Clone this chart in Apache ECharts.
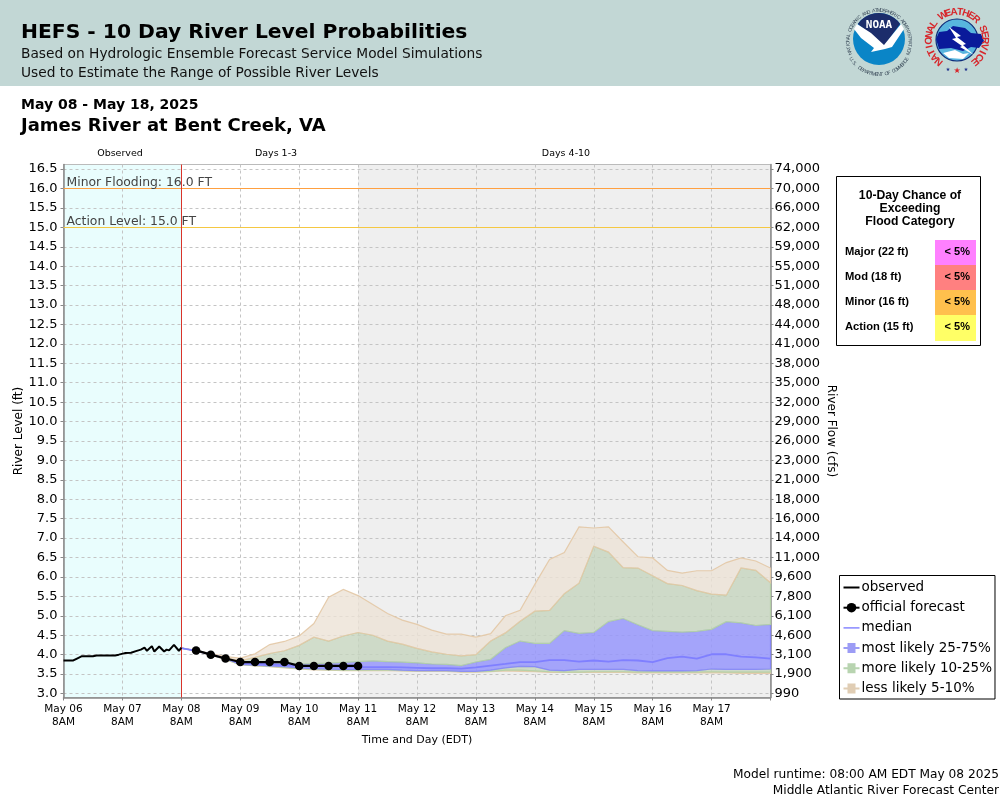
<!DOCTYPE html>
<html lang="en">
<head>
<meta charset="UTF-8">
<title>HEFS - James River at Bent Creek, VA</title>
<script src="https://cdn.jsdelivr.net/npm/echarts@6/dist/echarts.min.js"></script>
<style>
html, body { margin: 0; padding: 0; background: #fff; }
</style>
</head>
<body>
<div id="main" style="width:1000px;height:800px;"></div>
<script>
// x values are hours since May 06 8AM
var dayLabels = ['May 06', 'May 07', 'May 08', 'May 09', 'May 10', 'May 11', 'May 12', 'May 13', 'May 14', 'May 15', 'May 16', 'May 17'];

var stageTicks = [3, 3.5, 4, 4.5, 5, 5.5, 6, 6.5, 7, 7.5, 8, 8.5, 9, 9.5, 10, 10.5, 11, 11.5, 12, 12.5, 13, 13.5, 14, 14.5, 15, 15.5, 16, 16.5];
var flowLabels = ['990', '1,900', '3,100', '4,600', '6,100', '7,800', '9,600', '11,000', '14,000', '16,000', '18,000', '21,000', '23,000', '26,000', '29,000', '32,000', '35,000', '38,000', '41,000', '44,000', '48,000', '51,000', '55,000', '59,000', '62,000', '66,000', '70,000', '74,000'];

var obsHours = [0, 4, 5.5, 7.5, 12, 13.5, 21, 21.5, 22.5, 25, 27.5, 29.5, 30, 31.5, 33, 34, 36, 37, 39, 41, 42, 43, 45, 47, 48];
var obsLevels = [3.85, 3.85, 3.90, 3.96, 3.96, 3.98, 3.98, 3.96, 4.00, 4.04, 4.05, 4.09, 4.14, 4.13, 4.18, 4.10, 4.22, 4.08, 4.21, 4.08, 4.13, 4.11, 4.25, 4.10, 4.18];

var fcstHours = [54, 60, 66, 72, 78, 84, 90, 96, 102, 108, 114, 120];
var fcstLevels = [4.11, 4.00, 3.90, 3.81, 3.81, 3.81, 3.81, 3.71, 3.71, 3.71, 3.71, 3.71];

// ensemble output every 6 hours from May 08 8AM
var ensHours = [48, 54, 60, 66, 72, 78, 84, 90, 96, 102, 108, 114, 120, 126, 132, 138, 144, 150, 156, 162, 168, 174, 180, 186, 192, 198, 204, 210, 216, 222, 228, 234, 240, 246, 252, 258, 264, 270, 276, 282, 288];
var p05 = [4.17, 4.09, 3.99, 3.87, 3.74, 3.71, 3.69, 3.66, 3.63, 3.61, 3.60, 3.59, 3.59, 3.59, 3.59, 3.58, 3.57, 3.57, 3.57, 3.55, 3.55, 3.56, 3.58, 3.57, 3.56, 3.54, 3.54, 3.54, 3.54, 3.54, 3.54, 3.53, 3.53, 3.53, 3.53, 3.53, 3.53, 3.53, 3.52, 3.52, 3.52];
var p10 = [4.17, 4.10, 4.00, 3.88, 3.74, 3.72, 3.70, 3.67, 3.64, 3.62, 3.61, 3.60, 3.60, 3.60, 3.60, 3.59, 3.58, 3.58, 3.58, 3.56, 3.56, 3.57, 3.60, 3.60, 3.58, 3.56, 3.55, 3.55, 3.56, 3.56, 3.56, 3.55, 3.55, 3.55, 3.55, 3.55, 3.56, 3.55, 3.55, 3.55, 3.55];
var p25 = [4.17, 4.10, 4.01, 3.90, 3.75, 3.73, 3.71, 3.69, 3.66, 3.64, 3.63, 3.62, 3.62, 3.62, 3.62, 3.60, 3.59, 3.59, 3.59, 3.57, 3.57, 3.60, 3.66, 3.70, 3.69, 3.60, 3.59, 3.62, 3.62, 3.62, 3.62, 3.59, 3.58, 3.58, 3.58, 3.59, 3.63, 3.62, 3.62, 3.62, 3.63];
var p50 = [4.17, 4.10, 4.01, 3.90, 3.78, 3.77, 3.75, 3.73, 3.71, 3.70, 3.69, 3.69, 3.68, 3.68, 3.68, 3.67, 3.66, 3.65, 3.65, 3.64, 3.67, 3.72, 3.76, 3.81, 3.81, 3.86, 3.86, 3.82, 3.85, 3.82, 3.86, 3.85, 3.81, 3.91, 3.95, 3.90, 4.01, 4.01, 3.95, 3.93, 3.90];
var p75 = [4.17, 4.10, 4.01, 3.90, 3.80, 3.80, 3.80, 3.78, 3.76, 3.77, 3.78, 3.80, 3.82, 3.84, 3.82, 3.81, 3.79, 3.76, 3.75, 3.72, 3.81, 3.88, 4.18, 4.35, 4.29, 4.29, 4.62, 4.55, 4.57, 4.85, 4.93, 4.77, 4.62, 4.60, 4.58, 4.60, 4.65, 4.85, 4.82, 4.75, 4.78];
var p90 = [4.17, 4.10, 4.01, 3.92, 3.84, 3.93, 4.03, 4.10, 4.24, 4.45, 4.35, 4.48, 4.57, 4.50, 4.35, 4.27, 4.16, 4.07, 4.01, 3.97, 4.00, 4.35, 4.56, 4.86, 5.12, 5.14, 5.57, 5.84, 6.79, 6.64, 6.24, 6.23, 6.03, 5.83, 5.78, 5.65, 5.56, 5.53, 6.23, 6.17, 5.85];
var p95 = [4.17, 4.11, 4.03, 3.95, 3.91, 4.02, 4.26, 4.34, 4.48, 4.80, 5.48, 5.68, 5.52, 5.29, 5.06, 4.89, 4.78, 4.63, 4.53, 4.53, 4.45, 4.54, 5.00, 5.14, 5.81, 6.45, 6.63, 7.29, 7.26, 7.29, 6.90, 6.52, 6.49, 6.17, 6.10, 6.16, 6.16, 6.37, 6.49, 6.41, 6.23];

var floodLabels = ['Major (22 ft)', 'Mod (18 ft)', 'Minor (16 ft)', 'Action (15 ft)'];
var floodChances = ['< 5%', '< 5%', '< 5%', '< 5%'];
var floodColors = ['#ff80ff', '#ff8080', '#ffc04d', '#ffff66'];

var FONT = '"DejaVu Sans"';
var BAND_ICON = 'path://M0 7H4V3H12V7H16V9H12V13H4V9H0Z';

function pairs(xs, ys) {
    return xs.map(function (x, i) { return [x, ys[i]]; });
}

// filled region between two percentile curves, one polygon drawn on the first row
function band(name, lower, upper, line, fill, legendFill) {
    return {
        name: name, type: 'custom', silent: true, z: 3, coordinateSystem: 'cartesian2d',
        data: ensHours.map(function (h, i) { return [h, lower[i], upper[i]]; }),
        encode: { x: 0, y: [1, 2] },
        itemStyle: { color: legendFill },
        renderItem: function (params, api) {
            if (params.dataIndex !== 0) return null;
            var top = [], bottom = [];
            for (var i = 0; i < ensHours.length; i++) {
                var h = api.value(0, i);
                bottom.push(api.coord([h, api.value(1, i)]));
                top.push(api.coord([h, api.value(2, i)]));
            }
            return {
                type: 'polygon',
                shape: { points: bottom.concat(top.reverse()) },
                style: { fill: fill, stroke: line, lineWidth: 1.2 }
            };
        }
    };
}

// curved lettering for the two logos, one text element per letter
function ring(str, cx, cy, r, from, to, font, color, bottom) {
    var out = [];
    var n = str.length;
    for (var i = 0; i < n; i++) {
        var a = (from + (to - from) * i / (n - 1)) * Math.PI / 180;
        out.push({
            type: 'text',
            x: cx + r * Math.sin(a), y: cy - r * Math.cos(a),
            rotation: bottom ? Math.PI - a : -a,
            style: { text: str[i], x: 0, y: 0, align: 'center', verticalAlign: 'middle', font: font, fill: color }
        });
    }
    return out;
}

function txt(x, y, s, font, fill, align, extra) {
    var o = { type: 'text', x: x, y: y, style: { text: s, x: 0, y: 0, font: font, fill: fill || '#000', align: align || 'left', verticalAlign: 'middle' } };
    if (extra) o.rotation = extra;
    return o;
}

function poly(points, fill) {
    return { type: 'polygon', shape: { points: points }, style: { fill: fill } };
}

var graphics = [
    { type: 'rect', shape: { x: 0, y: 0, width: 1000, height: 86 }, style: { fill: '#c2d7d5' }, z: -10 },
    txt(21, 33, 'HEFS - 10 Day River Level Probabilities', 'bold 20.3px ' + FONT),
    txt(21, 54, 'Based on Hydrologic Ensemble Forecast Service Model Simulations', '13.75px ' + FONT, '#111'),
    txt(21, 73, 'Used to Estimate the Range of Possible River Levels', '13.75px ' + FONT, '#111'),
    txt(21, 105, 'May 08 - May 18, 2025', 'bold 14px ' + FONT),
    txt(21, 126, 'James River at Bent Creek, VA', 'bold 18px ' + FONT),
    txt(120, 154, 'Observed', '9.5px ' + FONT, '#000', 'center'),
    txt(276, 154, 'Days 1-3', '9.5px ' + FONT, '#000', 'center'),
    txt(566, 154, 'Days 4-10', '9.5px ' + FONT, '#000', 'center'),
    txt(417, 740, 'Time and Day (EDT)', '11px ' + FONT, '#000', 'center'),
    txt(19, 431, 'River Level (ft)', '12px ' + FONT, '#000', 'center', Math.PI / 2),
    txt(831, 431, 'River Flow (cfs)', '12px ' + FONT, '#000', 'center', -Math.PI / 2),
    txt(999, 775, 'Model runtime: 08:00 AM EDT May 08 2025', '12.2px ' + FONT, '#000', 'right'),
    txt(999, 791, 'Middle Atlantic River Forecast Center', '12.2px ' + FONT, '#000', 'right'),

    // flood category box
    { type: 'rect', shape: { x: 836.5, y: 176.5, width: 144, height: 169 }, style: { fill: '#fff', stroke: '#000', lineWidth: 1 } },
    txt(910, 196, '10-Day Chance of', 'bold 12.2px "Liberation Sans"', '#000', 'center'),
    txt(910, 209, 'Exceeding', 'bold 12.2px "Liberation Sans"', '#000', 'center'),
    txt(910, 222, 'Flood Category', 'bold 12.2px "Liberation Sans"', '#000', 'center')
];
floodLabels.forEach(function (label, i) {
    var y = 240 + i * 25;
    graphics.push({ type: 'rect', shape: { x: 935, y: y, width: 41, height: i == 3 ? 26 : 25 }, style: { fill: floodColors[i] } });
    graphics.push(txt(845, y + 12, label, 'bold 11.2px "Liberation Sans"'));
    graphics.push(txt(970, y + 12, floodChances[i], 'bold 11px "Liberation Sans"', '#000', 'right'));
});

// NOAA logo
var nx = 879, ny = 39;
graphics.push({ type: 'circle', shape: { cx: nx, cy: ny, r: 26 }, style: { fill: '#0a85c7' } });
graphics.push({ type: 'sector', shape: { cx: nx, cy: ny, r: 26, startAngle: Math.PI * 1.2, endAngle: Math.PI * 1.8 }, style: { fill: '#1c2d6b' } });
graphics.push(poly([[nx - 21, ny - 15], [nx + 5, ny + 7], [nx + 21, ny - 15]], '#1c2d6b'));
graphics.push(poly([[nx - 22, ny - 15], [nx - 8, ny - 6], [nx + 5, ny + 6], [nx + 22, ny - 15], [nx + 25, ny - 10], [nx + 13, ny + 8], [nx + 6, ny + 10], [nx - 8, ny + 13], [nx - 5, ny + 9], [nx - 18, ny - 1], [nx - 25, ny - 10]], '#fff'));
graphics.push(txt(nx, ny - 14, 'NOAA', 'bold 11px "DejaVu Sans Mono"', '#fff', 'center'));
graphics = graphics.concat(ring('NATIONAL OCEANIC AND ATMOSPHERIC ADMINISTRATION', nx, ny + 2.5, 31, -112, 112, '5px "Liberation Sans"', '#3a4a5a'));
graphics = graphics.concat(ring('U.S. DEPARTMENT OF COMMERCE', nx, ny + 2.5, 33, 238, 122, '5px "Liberation Sans"', '#3a4a5a', true));

// NWS logo
var wx = 957, wy = 40;
graphics.push({ type: 'circle', shape: { cx: wx, cy: wy, r: 21 }, style: { fill: '#58b5de', stroke: '#0c2a78', lineWidth: 1.2 } });
graphics.push(poly([[wx - 21, wy - 1], [wx - 18, wy - 8], [wx - 10, wy - 9], [wx - 4, wy - 14], [wx + 8, wy - 12], [wx + 14, wy - 7], [wx + 24, wy - 6], [wx + 27, wy + 1], [wx + 22, wy + 8], [wx + 14, wy + 7], [wx + 6, wy + 11], [wx - 6, wy + 8], [wx - 18, wy + 9]], '#0a1a9a'));
graphics.push(poly([[wx - 14, wy + 13], [wx - 2, wy + 10], [wx + 6, wy + 14], [wx + 12, wy + 13], [wx + 6, wy + 19], [wx - 8, wy + 18]], '#fff'));
graphics.push(poly([[wx - 8, wy - 13], [wx + 4, wy - 4], [wx, wy - 3], [wx + 9, wy + 4], [wx + 6, wy + 5], [wx + 17, wy + 15], [wx + 3, wy + 7], [wx + 5, wy + 6], [wx - 5, wy - 1], [wx - 1, wy - 2]], '#fff'));
graphics = graphics.concat(ring('NATIONAL WEATHER SERVICE', wx, wy, 28, -140, 140, 'bold 10px "Liberation Sans"', '#d7262b'));
graphics.push(txt(wx, wy + 31, '★', '8px "DejaVu Sans"', '#d7262b', 'center'));
graphics.push(txt(wx - 9, wy + 30, '★', '5px "DejaVu Sans"', '#1c2d8b', 'center'));
graphics.push(txt(wx + 9, wy + 30, '★', '5px "DejaVu Sans"', '#1c2d8b', 'center'));

var TAN_LINE = 'rgba(227,200,165,0.9)', TAN_FILL = 'rgba(236,226,214,0.8)';
var GREEN_LINE = 'rgba(180,210,165,0.9)', GREEN_FILL = 'rgba(198,212,190,0.8)';
var BLUE_LINE = 'rgba(130,130,255,0.8)', BLUE_FILL = 'rgba(150,150,252,0.85)';

var chart = echarts.init(document.getElementById('main'));
var option = {
    animation: false,
    textStyle: { fontFamily: FONT },
    grid: { left: 63.5, right: 229.5, top: 164.5, bottom: 102.5, show: true, borderColor: '#bbb', borderWidth: 1, backgroundColor: 'transparent' },
    xAxis: {
        type: 'value', min: 0, max: 288, interval: 24,
        axisLine: { lineStyle: { color: '#888', width: 1.5 } },
        axisTick: { length: 3, lineStyle: { color: '#888' } },
        axisLabel: {
            color: '#000', fontSize: 10.5, lineHeight: 13, margin: 5, showMaxLabel: true, showMinLabel: true, hideOverlap: false,
            formatter: function (v) { var d = dayLabels[v / 24]; return d ? d + '\n8AM' : ''; }
        },
        splitLine: { show: true, lineStyle: { color: '#c4c4c4', type: [3, 3], width: 1 } }
    },
    yAxis: [{
        type: 'value', min: 2.897, max: 16.618,
        axisLine: { show: true, lineStyle: { color: '#888', width: 1.5 } },
        axisTick: { show: true, length: 3, customValues: stageTicks, lineStyle: { color: '#888' } },
        axisLabel: { color: '#000', fontSize: 13, margin: 6, padding: [2, 0, 0, 0], customValues: stageTicks, formatter: function (v) { return v.toFixed(1); } },
        splitLine: { show: true, lineStyle: { color: '#c4c4c4', type: [3, 3], width: 1 } }
    }, {
        type: 'value', min: 2.897, max: 16.618, position: 'right',
        axisLine: { show: true, lineStyle: { color: '#888', width: 1.5 } },
        axisTick: { show: true, length: 3, customValues: stageTicks, lineStyle: { color: '#888' } },
        axisLabel: {
            color: '#000', fontSize: 13, margin: 4, padding: [2, 0, 0, 0], customValues: stageTicks,
            formatter: function (v) { return flowLabels[stageTicks.indexOf(v)]; }
        },
        splitLine: { show: false }
    }],
    legend: {
        orient: 'vertical', left: 839.5, top: 575.5,
        padding: [5, 3, 3.5, 3], itemGap: 6.2, itemWidth: 16, itemHeight: 12,
        backgroundColor: '#fff', borderColor: '#000', borderWidth: 1, borderRadius: 0,
        textStyle: { fontSize: 13.5, color: '#000', padding: [0, 0, 0, -3] },
        selectedMode: false,
        data: [
            { name: 'observed', icon: 'path://M0 7H16V9H0Z' },
            { name: 'official forecast' },
            { name: 'median', icon: 'path://M0 7H16V8.4H0Z' },
            { name: 'most likely 25-75%', icon: BAND_ICON },
            { name: 'more likely 10-25%', icon: BAND_ICON },
            { name: 'less likely 5-10%', icon: BAND_ICON }
        ]
    },
    graphic: { elements: graphics },
    series: [
        {
            name: 'background', type: 'line', data: [], z: -1, silent: true,
            markArea: {
                silent: true, z: -1,
                data: [
                    [{ xAxis: 0, itemStyle: { color: '#e9fdfd' } }, { xAxis: 48 }],
                    [{ xAxis: 120, itemStyle: { color: '#efefef' } }, { xAxis: 288 }]
                ]
            }
        },
        band('less likely 5-10%', p05, p10, TAN_LINE, TAN_FILL, '#e0cdb4'),
        band('more likely 10-25%', p10, p25, GREEN_LINE, GREEN_FILL, '#b8d4b0'),
        band('most likely 25-75%', p25, p75, BLUE_LINE, BLUE_FILL, '#9c9cf5'),
        band('more likely 10-25%', p75, p90, GREEN_LINE, GREEN_FILL, '#b8d4b0'),
        band('less likely 5-10%', p90, p95, TAN_LINE, TAN_FILL, '#e0cdb4'),
        {
            name: 'median', type: 'line', symbol: 'none', silent: true, z: 4, color: '#7f7fff',
            data: pairs(ensHours, p50), lineStyle: { color: '#7f7fff', width: 1.8 }, itemStyle: { color: '#7f7fff' }
        },
        {
            name: 'thresholds', type: 'line', data: [], silent: true, z: 5,
            markLine: {
                silent: true, symbol: 'none', animation: false,
                data: [
                    {
                        yAxis: 16, lineStyle: { color: '#ffa040', width: 1, type: 'solid' },
                        label: { formatter: 'Minor Flooding: 16.0 FT', position: 'insideStartTop', color: '#444', fontSize: 12.4, distance: [3, 0] }
                    },
                    {
                        yAxis: 15, lineStyle: { color: '#f5c842', width: 1, type: 'solid' },
                        label: { formatter: 'Action Level: 15.0 FT', position: 'insideStartTop', color: '#444', fontSize: 12.4, distance: [3, 0] }
                    },
                    { xAxis: 48, lineStyle: { color: '#d9342b', width: 1, type: 'solid' }, label: { show: false } }
                ]
            }
        },
        {
            name: 'observed', type: 'line', symbol: 'none', silent: true, z: 6, color: '#000',
            data: pairs(obsHours, obsLevels), lineStyle: { color: '#000', width: 2 }, itemStyle: { color: '#000' }
        },
        {
            name: 'official forecast', type: 'line', symbol: 'circle', symbolSize: 8.5, silent: true, z: 7, color: '#000',
            data: pairs(fcstHours, fcstLevels), lineStyle: { color: '#000', width: 2.2 }, itemStyle: { color: '#000' }
        }
    ]
};
chart.setOption(option);
</script>
</body>
</html>
